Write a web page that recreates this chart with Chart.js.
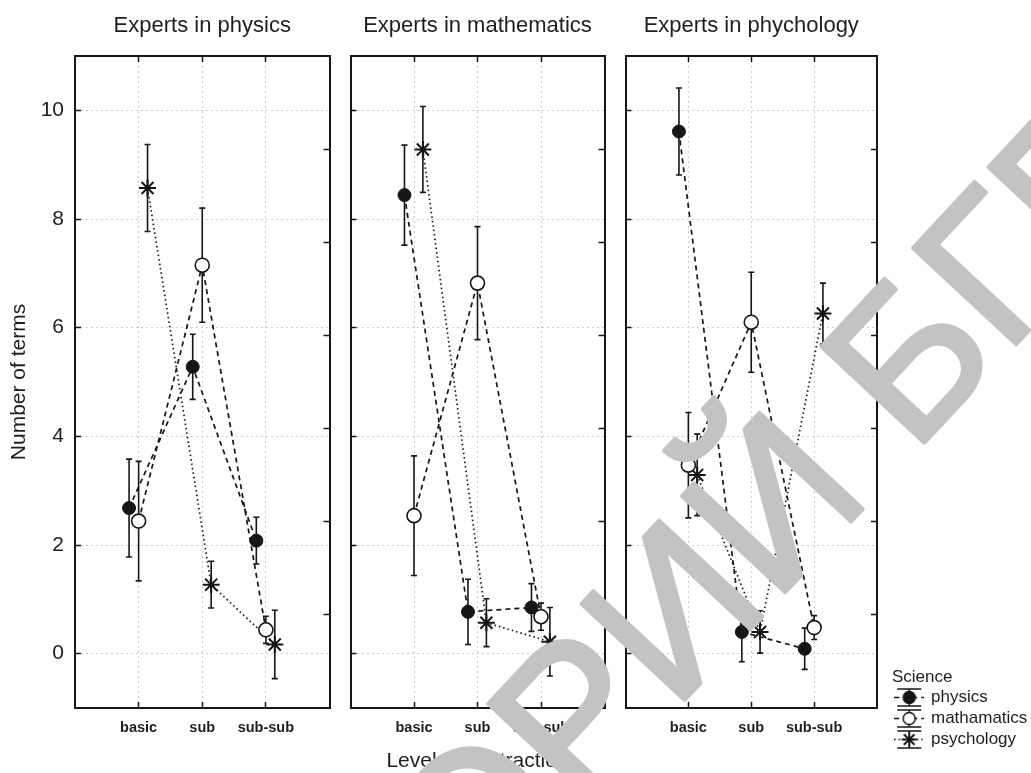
<!DOCTYPE html>
<html>
<head>
<meta charset="utf-8">
<title>Number of terms by level of abstraction</title>
<script src="https://cdn.jsdelivr.net/npm/chart.js@4.4.1/dist/chart.umd.min.js"></script>
<style>
  html, body { margin: 0; padding: 0; background: #fff; }
  #page { position: relative; width: 1031px; height: 773px; overflow: hidden; }
  #page canvas { position: absolute; top: 0; }
  #watermark { left: 0; pointer-events: none; }
</style>
</head>
<body>
<div id="page">
  <canvas id="panel-0" width="340" height="773" style="left:0"></canvas>
  <canvas id="panel-1" width="275" height="773" style="left:340px"></canvas>
  <canvas id="panel-2" width="417" height="773" style="left:615px"></canvas>
  <canvas id="watermark" width="1031" height="773"></canvas>
</div>
<script>
// Number of terms named per level of abstraction, split by expert group.

const categories = ['basic', 'sub', 'sub-sub'];
const panelTitles = ['Experts in physics', 'Experts in mathematics', 'Experts in phychology'];
const seriesNames = ['physics', 'mathamatics', 'psychology'];
const yTickValues = [0, 2, 4, 6, 8, 10];
const rightTickValues = [1, 2, 3, 4, 5, 6];

// means and error half-widths, one row per panel, one value per category
const physicsMean = [[2.68, 5.28, 2.08], [8.44, 0.77, 0.85], [9.61, 0.40, 0.09]];
const physicsErr = [[0.90, 0.60, 0.43], [0.92, 0.60, 0.44], [0.80, 0.55, 0.38]];
const mathMean = [[2.44, 7.15, 0.44], [2.54, 6.82, 0.68], [3.47, 6.10, 0.48]];
const mathErr = [[1.10, 1.05, 0.25], [1.10, 1.04, 0.25], [0.97, 0.92, 0.22]];
const psychMean = [[8.57, 1.27, 0.17], [9.28, 0.57, 0.22], [3.29, 0.40, 6.26]];
const psychErr = [[0.80, 0.43, 0.63], [0.79, 0.44, 0.63], [0.75, 0.39, 0.56]];

const INK = '#161616';
const TEXT = '#1e1e1e';
const GRID = '#cdcdcd';
const CAP = 3;

Chart.defaults.font.family = "'Liberation Sans', Arial, sans-serif";
Chart.defaults.color = TEXT;

// style table for the three series; dodge spreads the markers inside a category
const SERIES = [
  { mean: physicsMean, err: physicsErr, dodge: -0.15, dash: [5, 4], pointStyle: 'circle', radius: 6.5, fill: INK, pointWidth: 1 },
  { mean: mathMean, err: mathErr, dodge: 0, dash: [5, 4], pointStyle: 'circle', radius: 7, fill: '#fff', pointWidth: 1.6 },
  { mean: psychMean, err: psychErr, dodge: 0.14, dash: [1.5, 3], pointStyle: 'star', radius: 8.5, fill: INK, pointWidth: 2 },
];

const errorBarPlugin = {
  id: 'errorBars',
  beforeDatasetsDraw(chart) {
    const { ctx } = chart;
    const yScale = chart.scales.y;
    chart.data.datasets.forEach((ds, i) => {
      const meta = chart.getDatasetMeta(i);
      if (!ds.errors || meta.hidden) return;
      ctx.save();
      ctx.strokeStyle = INK;
      ctx.lineWidth = 1.6;
      ctx.setLineDash([]);
      meta.data.forEach((pt, j) => {
        const mean = ds.data[j].y;
        const top = yScale.getPixelForValue(mean + ds.errors[j]);
        const bottom = yScale.getPixelForValue(mean - ds.errors[j]);
        ctx.beginPath();
        ctx.moveTo(pt.x, top);
        ctx.lineTo(pt.x, bottom);
        ctx.moveTo(pt.x - CAP, top);
        ctx.lineTo(pt.x + CAP, top);
        ctx.moveTo(pt.x - CAP, bottom);
        ctx.lineTo(pt.x + CAP, bottom);
        ctx.stroke();
      });
      ctx.restore();
    });
  },
};

function legendIcon(s) {
  const c = document.createElement('canvas');
  c.width = 30;
  c.height = 21;
  const g = c.getContext('2d');
  g.strokeStyle = INK;
  g.lineWidth = 1.5;
  g.beginPath();
  g.moveTo(3, 2); g.lineTo(27, 2);
  g.moveTo(3, 19); g.lineTo(27, 19);
  g.moveTo(15, 2); g.lineTo(15, 19);
  g.stroke();
  g.setLineDash(s.dash);
  g.beginPath();
  g.moveTo(0, 10.5); g.lineTo(30, 10.5);
  g.stroke();
  g.setLineDash([]);
  if (s.pointStyle === 'star') {
    g.lineWidth = 2;
    g.beginPath();
    for (let a = 0; a < 4; a++) {
      const r = (a * Math.PI) / 4;
      g.moveTo(15 - 7.5 * Math.cos(r), 10.5 - 7.5 * Math.sin(r));
      g.lineTo(15 + 7.5 * Math.cos(r), 10.5 + 7.5 * Math.sin(r));
    }
    g.stroke();
  } else {
    g.beginPath();
    g.arc(15, 10.5, 6, 0, Math.PI * 2);
    g.fillStyle = s.fill;
    g.fill();
    g.stroke();
  }
  return c;
}

function panelDatasets(p) {
  return SERIES.map((s, k) => ({
    label: seriesNames[k],
    data: s.mean[p].map((v, c) => ({ x: c + 1 + s.dodge, y: v })),
    errors: s.err[p],
    xAxisID: 'x',
    yAxisID: 'y',
    showLine: true,
    tension: 0,
    borderColor: INK,
    borderWidth: 1.7,
    borderDash: s.dash,
    pointStyle: s.pointStyle,
    pointRadius: s.radius,
    pointBackgroundColor: s.fill,
    pointBorderColor: INK,
    pointBorderWidth: s.pointWidth,
  }));
}

function buildOptions(p) {
  const first = p === 0;
  const last = p === panelTitles.length - 1;
  const tickMarks = { tickLength: -6, tickColor: INK, tickWidth: 1.5 };
  const frame = { color: INK, width: 2 };
  return {
    responsive: false,
    animation: false,
    events: [],
    layout: { padding: { left: 0, right: last ? 0 : 10, top: 0, bottom: last ? 21 : 0 } },
    plugins: {
      tooltip: { enabled: false },
      title: {
        display: true,
        text: panelTitles[p],
        fullSize: false,
        color: TEXT,
        font: { size: 22, weight: 'normal' },
        padding: { top: 12.5, bottom: 17.1 },
      },
      legend: last
        ? {
            display: true,
            position: 'right',
            align: 'end',
            maxWidth: 140,
            title: { display: true, text: 'Science', position: 'start', color: TEXT, font: { size: 17 }, padding: { top: 0, bottom: -4 } },
            labels: {
              usePointStyle: true,
              pointStyleWidth: 26.5,
              padding: 4,
              color: TEXT,
              font: { size: 17 },
              generateLabels: (chart) =>
                chart.data.datasets.map((ds, i) => ({
                  text: ds.label,
                  pointStyle: legendIcon(SERIES[i]),
                  datasetIndex: i,
                  hidden: false,
                  lineWidth: 0,
                  fillStyle: 'transparent',
                  strokeStyle: 'transparent',
                })),
            },
          }
        : { display: false },
    },
    scales: {
      x: {
        type: 'linear',
        position: 'bottom',
        min: 0,
        max: 4,
        afterBuildTicks: (axis) => { axis.ticks = categories.map((_, i) => ({ value: i + 1 })); },
        afterFit: (axis) => { axis.height = last ? 44 : 65; },
        ticks: {
          callback: (v) => categories[v - 1],
          autoSkip: false,
          maxRotation: 0,
          padding: 17,
          color: TEXT,
          font: { size: 14.5, weight: 'bold' },
        },
        grid: { color: GRID, lineWidth: 1, ...tickMarks },
        border: { ...frame, dash: [2, 3] },
        title: p === 1
          ? { display: true, text: 'Level of abstraction', color: TEXT, font: { size: 21 }, padding: { top: 0, bottom: -1 } }
          : { display: false },
      },
      x2: {
        type: 'linear',
        position: 'top',
        min: 0,
        max: 4,
        afterBuildTicks: (axis) => { axis.ticks = categories.map((_, i) => ({ value: i + 1 })); },
        afterFit: (axis) => { axis.height = 0; },
        ticks: { display: false },
        grid: { drawOnChartArea: false, ...tickMarks },
        border: frame,
      },
      y: {
        type: 'linear',
        position: 'left',
        min: -1,
        max: 11,
        afterBuildTicks: (axis) => { axis.ticks = yTickValues.map((v) => ({ value: v })); },
        afterFit: (axis) => { axis.width = first ? 75 : 8; },
        ticks: { display: first, padding: 17, color: TEXT, font: { size: 21 } },
        grid: { color: GRID, lineWidth: 1, ...tickMarks },
        border: { ...frame, dash: [2, 3] },
        title: first
          ? { display: true, text: 'Number of terms', color: TEXT, font: { size: 21 }, padding: { top: 6.4, bottom: 0 } }
          : { display: false },
      },
      y2: {
        type: 'linear',
        position: 'right',
        min: 0,
        max: 7,
        afterBuildTicks: (axis) => { axis.ticks = rightTickValues.map((v) => ({ value: v })); },
        afterFit: (axis) => { axis.width = last ? 15 : 0; },
        ticks: { display: false },
        grid: { drawOnChartArea: false, ...tickMarks },
        border: frame,
      },
    },
  };
}

panelTitles.forEach((_, p) => {
  new Chart(document.getElementById(`panel-${p}`), {
    type: 'scatter',
    data: { datasets: panelDatasets(p) },
    options: buildOptions(p),
    plugins: [errorBarPlugin],
  });
});

// Repository watermark laid over the scanned figure
function drawWatermark() {
  const wm = document.getElementById('watermark').getContext('2d');
  const text = 'РЕПОЗИТОРИЙ БГПУ';
  wm.font = "205px 'Liberation Sans', Arial, sans-serif";
  wm.fillStyle = '#c3c3c3';
  wm.strokeStyle = '#c3c3c3';
  wm.lineWidth = 4;
  wm.lineJoin = 'round';
  wm.textBaseline = 'alphabetic';
  const lead = wm.measureText('РЕПОЗИТОРИЙ ').width;
  wm.save();
  wm.translate(913, 455);
  wm.rotate((-47 * Math.PI) / 180);
  wm.fillText(text, -lead, 0);
  wm.strokeText(text, -lead, 0);
  wm.restore();
}
drawWatermark();
</script>
</body>
</html>
